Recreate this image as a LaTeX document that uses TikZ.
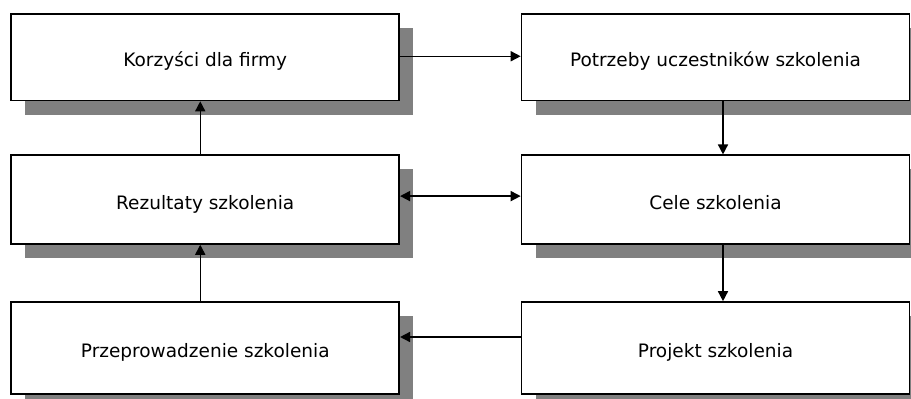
\documentclass[tikz,border=0pt]{standalone}
\usepackage{fontspec}
\setmainfont{DejaVu Sans}
\usetikzlibrary{arrows.meta,shadows}
\begin{document}
\begin{tikzpicture}[x=1pt,y=-1pt,
  boxnode/.style={draw=black, line width=1.6pt, fill=white, minimum width=388pt,
    inner sep=0pt, text height=19pt, text depth=0pt, font=\fontsize{18.5}{22}\selectfont,
    drop shadow={shadow xshift=14pt, shadow yshift=-14pt, fill=black!50, opacity=1}},
  conn/.style={line width=1.5pt, -{Triangle[length=10pt,width=10pt]}},
  conn2/.style={line width=1.5pt, {Triangle[length=10pt,width=10pt]}-{Triangle[length=10pt,width=10pt]}}]
\useasboundingbox (0,0) rectangle (911,399);
\node[boxnode, minimum height=86.5pt] (kor) at (205.25,57.25) {Korzyści dla firmy};
\node[boxnode, minimum height=86.5pt] (pot) at (715.5,57.25) {Potrzeby uczestników szkolenia};
\node[boxnode, minimum height=88.7pt] (rez) at (205.25,199.6) {Rezultaty szkolenia};
\node[boxnode, minimum height=88.7pt] (cel) at (715.5,199.6) {Cele szkolenia};
\node[boxnode, minimum height=92pt] (prz) at (205.25,348) {Przeprowadzenie szkolenia};
\node[boxnode, minimum height=92pt] (pro) at (715.5,348) {Projekt szkolenia};
\draw[conn] ([yshift=1pt]kor.east) -- ([yshift=1pt]pot.west);
\draw[conn] ([xshift=7.5pt]pot.south) -- ([xshift=7.5pt]cel.north);
\draw[conn2] ([yshift=3.5pt]rez.east) -- ([yshift=3.5pt]cel.west);
\draw[conn] ([xshift=7.5pt]cel.south) -- ([xshift=7.5pt]pro.north);
\draw[conn] ([yshift=11pt]pro.west) -- ([yshift=11pt]prz.east);
\draw[conn] ([xshift=-5pt]prz.north) -- ([xshift=-5pt]rez.south);
\draw[conn] ([xshift=-5pt]rez.north) -- ([xshift=-5pt]kor.south);
\end{tikzpicture}
\end{document}
